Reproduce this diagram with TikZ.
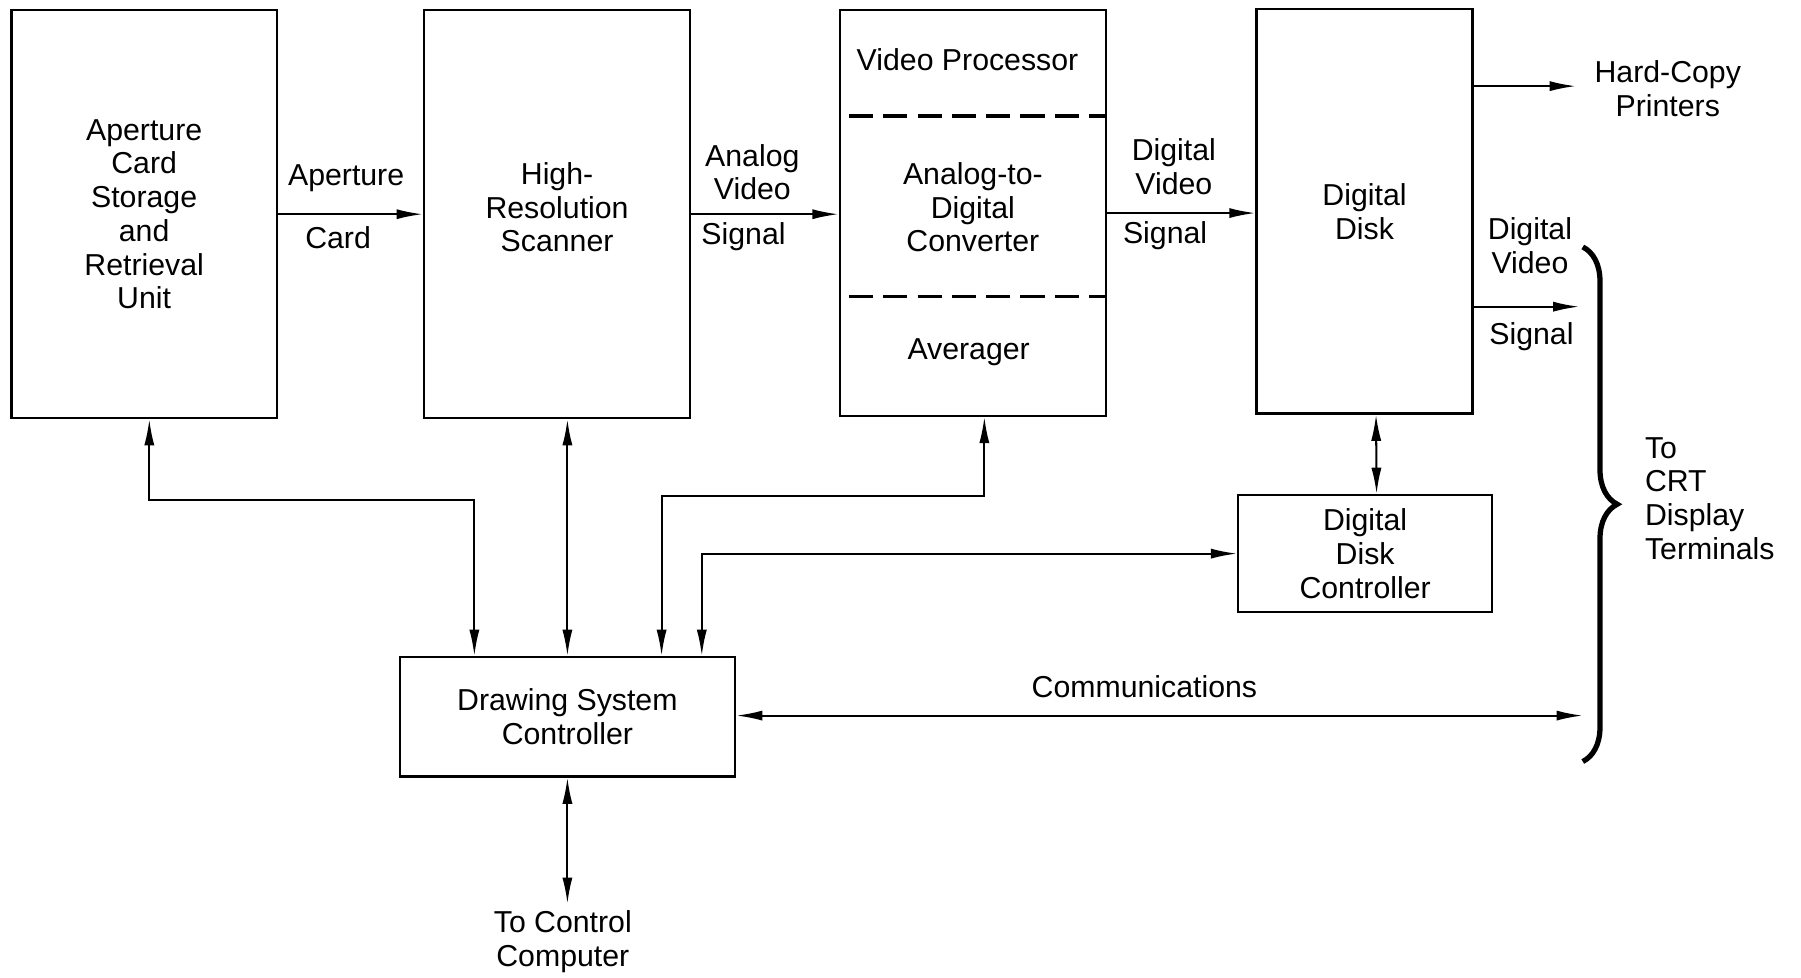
\documentclass[tikz,border=0pt]{standalone}
\usepackage{fontspec}
\setmainfont{Liberation Sans}
\usepackage{tikz}
\usetikzlibrary{positioning, arrows.meta, decorations.pathreplacing}

\begin{document}
\begin{tikzpicture}[x = 0.02cm, y = -0.02cm,
    every node/.style = { align = center, font = \fontsize{15}{16.7}\selectfont },
    unit/.style = { draw, line width = 1.1pt, inner sep = 0pt },
    conn/.style = { line width = 1pt, -{Latex[length = 13pt, width = 5pt]} },
    both/.style = { line width = 1pt, {Latex[length = 13pt, width = 5pt]}-{Latex[length = 13pt, width = 5pt]} },
    sep/.style = { line width = 1.6pt, dash pattern = on 12pt off 5pt }]
  \useasboundingbox (0,0) rectangle (1568,851);

  % main units
  \node [unit, minimum width = 4.62cm, minimum height = 7.1cm] (store) at (125.5,186.5)
    { Aperture \\ Card \\ Storage \\ and \\ Retrieval \\ Unit };
  \node [unit, minimum width = 4.64cm, minimum height = 7.1cm, text depth = 0.24cm] (scan) at (485,186.5)
    { High- \\ Resolution \\ Scanner };
  \node [unit, minimum width = 4.64cm, minimum height = 7.06cm, text depth = 0.2cm] (vp) at (847,185.5)
    { Analog-to- \\ Digital \\ Converter };
  \node [unit, minimum width = 3.76cm, minimum height = 7.04cm] (disk) at (1188,184)
    { Digital \\ Disk };
  \node [unit, minimum width = 4.42cm, minimum height = 2.04cm] (ddc) at (1188.5,482)
    { Digital \\ Disk \\ Controller };
  \node [unit, minimum width = 5.84cm, minimum height = 2.08cm] (ctrl) at (494,624)
    { Drawing System \\ Controller };

  % video processor sections
  \node (vptop) at (846,52) { Video Processor };
  \node (avg) at (847,307) { Averager };
  \draw [sep, shorten <= 0.18cm] (vp.west |- 0,101) -- (vp.east |- 0,101);
  \draw [sep, shorten <= 0.18cm] (vp.west |- 0,258) -- (vp.east |- 0,258);

  % signal path
  \draw [conn] (store.east) -- (scan.west);
  \node at (305,155) { Aperture };
  \node at (298,207) { Card };
  \draw [conn] (scan.east) -- (scan.east -| vp.west);
  \node at (655,150) { Analog \\ Video };
  \node at (651,206) { Signal };
  \draw [conn] (vp.east) -- (vp.east -| disk.west);
  \node at (1022,145) { Digital \\ Video };
  \node at (1018,205) { Signal };

  % outputs
  \node (hc) at (1452,77) { Hard-Copy \\ Printers };
  \coordinate (hcin) at (1372,75);
  \draw [conn] (disk.east |- hcin) -- (hcin);
  \coordinate (dvout) at (1375,267);
  \draw [conn] (disk.east |- dvout) -- (dvout);
  \node at (1332,214) { Digital \\ Video };
  \node at (1337,293) { Signal };

  \coordinate (brtop) at (1378,215);
  \coordinate (brbot) at (1378,663);
  \draw [line width = 2.6pt, decorate, decoration = { brace, amplitude = 0.6cm }] (brtop) -- (brbot);
  \node [anchor = west, align = left] (crt) at (1426,434) { To \\ CRT \\ Display \\ Terminals };

  % control lines
  \coordinate (b1) at (413,435);
  \draw [both] ([xshift = 0.09cm]store.south) |- (b1) -- (b1 |- ctrl.north);
  \draw [both] (ctrl.north) -- (ctrl.north |- scan.south);
  \coordinate (b3) at (576,432);
  \draw [both] ([xshift = 0.2cm]vp.south) |- (b3) -- (b3 |- ctrl.north);
  \coordinate (b4) at (611,481);
  \draw [both] (ddc.west) -| (b4 |- ctrl.north);
  \draw [both] ([xshift = 0.2cm]disk.south) -- ([xshift = 0.2cm]ddc.north);

  \coordinate (comm) at (1378,623);
  \draw [both] (ctrl.east |- comm) -- (comm);
  \node at (1000,598) { Communications };

  \node (cc) at (490,820) { To Control \\ Computer };
  \draw [both] (ctrl.south) -- (ctrl.south |- cc.north);
\end{tikzpicture}
\end{document}
